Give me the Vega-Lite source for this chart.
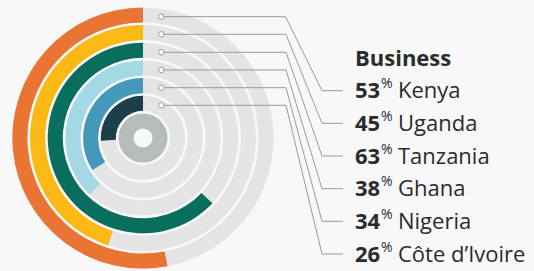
{
  "$schema": "https://vega.github.io/schema/vega-lite/v6.json",
  "width": 534,
  "height": 271,
  "autosize": {"type": "none"},
  "padding": 0,
  "background": "#f8f8f8",
  "config": {"view": {"stroke": null}, "font": "Open Sans"},
  "datasets": {
    "countries": [
      {"country": "Kenya", "value": 53},
      {"country": "Uganda", "value": 45},
      {"country": "Tanzania", "value": 63},
      {"country": "Ghana", "value": 38},
      {"country": "Nigeria", "value": 34},
      {"country": "Côte d’Ivoire", "value": 26}
    ],
    "leaders": [
      {"country": "Kenya", "value": 53, "step": 0, "x": 161.3, "y": 16.7},
      {"country": "Kenya", "value": 53, "step": 1, "x": 285.5, "y": 16.7},
      {"country": "Kenya", "value": 53, "step": 2, "x": 322, "y": 90.7},
      {"country": "Kenya", "value": 53, "step": 3, "x": 343, "y": 90.7},
      {"country": "Uganda", "value": 45, "step": 0, "x": 161.3, "y": 34.3},
      {"country": "Uganda", "value": 45, "step": 1, "x": 286, "y": 34.3},
      {"country": "Uganda", "value": 45, "step": 2, "x": 322, "y": 123.3},
      {"country": "Uganda", "value": 45, "step": 3, "x": 343, "y": 123.3},
      {"country": "Tanzania", "value": 63, "step": 0, "x": 161.3, "y": 52.3},
      {"country": "Tanzania", "value": 63, "step": 1, "x": 286, "y": 52.3},
      {"country": "Tanzania", "value": 63, "step": 2, "x": 322, "y": 156},
      {"country": "Tanzania", "value": 63, "step": 3, "x": 343, "y": 156},
      {"country": "Ghana", "value": 38, "step": 0, "x": 161.3, "y": 70},
      {"country": "Ghana", "value": 38, "step": 1, "x": 286, "y": 70},
      {"country": "Ghana", "value": 38, "step": 2, "x": 322, "y": 188.7},
      {"country": "Ghana", "value": 38, "step": 3, "x": 343, "y": 188.7},
      {"country": "Nigeria", "value": 34, "step": 0, "x": 161.3, "y": 87.7},
      {"country": "Nigeria", "value": 34, "step": 1, "x": 286, "y": 87.7},
      {"country": "Nigeria", "value": 34, "step": 2, "x": 322, "y": 221.3},
      {"country": "Nigeria", "value": 34, "step": 3, "x": 343, "y": 221.3},
      {"country": "Côte d’Ivoire", "value": 26, "step": 0, "x": 161.3, "y": 105.3},
      {"country": "Côte d’Ivoire", "value": 26, "step": 1, "x": 286, "y": 105.3},
      {"country": "Côte d’Ivoire", "value": 26, "step": 2, "x": 322, "y": 254},
      {"country": "Côte d’Ivoire", "value": 26, "step": 3, "x": 343, "y": 254}
    ]
  },
  "layer": [
    {
      "data": {"name": "countries"},
      "mark": {"type": "arc", "color": "#e3e4e3"},
      "encoding": {
        "x": {"datum": 143, "type": "quantitative", "scale": {"domain": [0, 534], "nice": false, "zero": false}, "axis": null},
        "y": {"datum": 138, "type": "quantitative", "scale": {"domain": [0, 271], "nice": false, "zero": false, "reverse": true}, "axis": null},
        "radius": {"field": "country", "type": "nominal", "scale": {"type": "band", "domain": ["centre", "Côte d’Ivoire", "Nigeria", "Ghana", "Tanzania", "Uganda", "Kenya"], "range": [9.5, 130.6], "paddingInner": 0.15, "paddingOuter": 0}},
        "theta": {"datum": 100, "type": "quantitative", "scale": {"domain": [0, 100], "range": [6.283185, 0]}},
        "theta2": {"datum": 0}
      }
    },
    {
      "data": {"values": [{"country": "centre"}]},
      "mark": {"type": "arc", "color": "#b6bcba"},
      "encoding": {
        "x": {"datum": 143, "type": "quantitative", "scale": {"domain": [0, 534], "nice": false, "zero": false}, "axis": null},
        "y": {"datum": 138, "type": "quantitative", "scale": {"domain": [0, 271], "nice": false, "zero": false, "reverse": true}, "axis": null},
        "radius": {"field": "country", "type": "nominal"},
        "theta": {"datum": 100, "type": "quantitative"},
        "theta2": {"datum": 0}
      }
    },
    {
      "data": {"name": "countries"},
      "mark": {"type": "arc"},
      "encoding": {
        "x": {"datum": 143, "type": "quantitative", "scale": {"domain": [0, 534], "nice": false, "zero": false}, "axis": null},
        "y": {"datum": 138, "type": "quantitative", "scale": {"domain": [0, 271], "nice": false, "zero": false, "reverse": true}, "axis": null},
        "radius": {"field": "country", "type": "nominal"},
        "theta": {"field": "value", "type": "quantitative", "stack": null},
        "theta2": {"datum": 0},
        "color": {"field": "country", "type": "nominal", "legend": null, "scale": {"domain": ["Kenya", "Uganda", "Tanzania", "Ghana", "Nigeria", "Côte d’Ivoire"], "range": ["#e97433", "#fdb913", "#0a6e5f", "#a3d8e5", "#4498b9", "#1c3f4b"]}}
      }
    },
    {
      "data": {"name": "leaders"},
      "mark": {"type": "line", "color": "#9a9a9a", "strokeWidth": 1},
      "encoding": {
        "x": {"field": "x", "type": "quantitative", "scale": {"domain": [0, 534], "nice": false, "zero": false}, "axis": null},
        "y": {"field": "y", "type": "quantitative", "scale": {"domain": [0, 271], "nice": false, "zero": false, "reverse": true}, "axis": null},
        "detail": {"field": "country"},
        "order": {"field": "step"}
      }
    },
    {
      "data": {"name": "leaders"},
      "transform": [{"filter": "datum.step == 0"}],
      "mark": {"type": "point", "shape": "circle", "filled": true, "fill": "#ffffff", "stroke": "#9a9a9a", "strokeWidth": 1, "size": 30, "opacity": 1},
      "encoding": {
        "x": {"field": "x", "type": "quantitative", "scale": {"domain": [0, 534], "nice": false, "zero": false}, "axis": null},
        "y": {"field": "y", "type": "quantitative", "scale": {"domain": [0, 271], "nice": false, "zero": false, "reverse": true}, "axis": null}
      }
    },
    {
      "data": {"name": "leaders"},
      "transform": [{"filter": "datum.step == 3"}],
      "mark": {"type": "text", "align": "left", "baseline": "alphabetic", "dx": 12, "dy": 7.5, "fontSize": 22, "fontWeight": "bold", "color": "#2b2b2b"},
      "encoding": {
        "x": {"field": "x", "type": "quantitative", "scale": {"domain": [0, 534], "nice": false, "zero": false}, "axis": null},
        "y": {"field": "y", "type": "quantitative", "scale": {"domain": [0, 271], "nice": false, "zero": false, "reverse": true}, "axis": null},
        "text": {"field": "value", "type": "quantitative"}
      }
    },
    {
      "data": {"name": "leaders"},
      "transform": [{"filter": "datum.step == 3"}],
      "mark": {"type": "text", "align": "left", "baseline": "alphabetic", "dx": 38, "dy": -2.5, "fontSize": 14, "color": "#2b2b2b"},
      "encoding": {
        "x": {"field": "x", "type": "quantitative", "scale": {"domain": [0, 534], "nice": false, "zero": false}, "axis": null},
        "y": {"field": "y", "type": "quantitative", "scale": {"domain": [0, 271], "nice": false, "zero": false, "reverse": true}, "axis": null},
        "text": {"value": "%"}
      }
    },
    {
      "data": {"name": "leaders"},
      "transform": [{"filter": "datum.step == 3"}],
      "mark": {"type": "text", "align": "left", "baseline": "alphabetic", "dx": 55, "dy": 7.5, "fontSize": 22, "color": "#2b2b2b"},
      "encoding": {
        "x": {"field": "x", "type": "quantitative", "scale": {"domain": [0, 534], "nice": false, "zero": false}, "axis": null},
        "y": {"field": "y", "type": "quantitative", "scale": {"domain": [0, 271], "nice": false, "zero": false, "reverse": true}, "axis": null},
        "text": {"field": "country", "type": "nominal"}
      }
    },
    {
      "data": {"values": [{"heading": "Business"}]},
      "mark": {"type": "text", "align": "left", "baseline": "alphabetic", "fontSize": 22, "fontWeight": "bold", "color": "#2b2b2b"},
      "encoding": {
        "x": {"datum": 355, "type": "quantitative", "scale": {"domain": [0, 534], "nice": false, "zero": false}, "axis": null},
        "y": {"datum": 65.7, "type": "quantitative", "scale": {"domain": [0, 271], "nice": false, "zero": false, "reverse": true}, "axis": null},
        "text": {"field": "heading", "type": "nominal"}
      }
    }
  ]
}
